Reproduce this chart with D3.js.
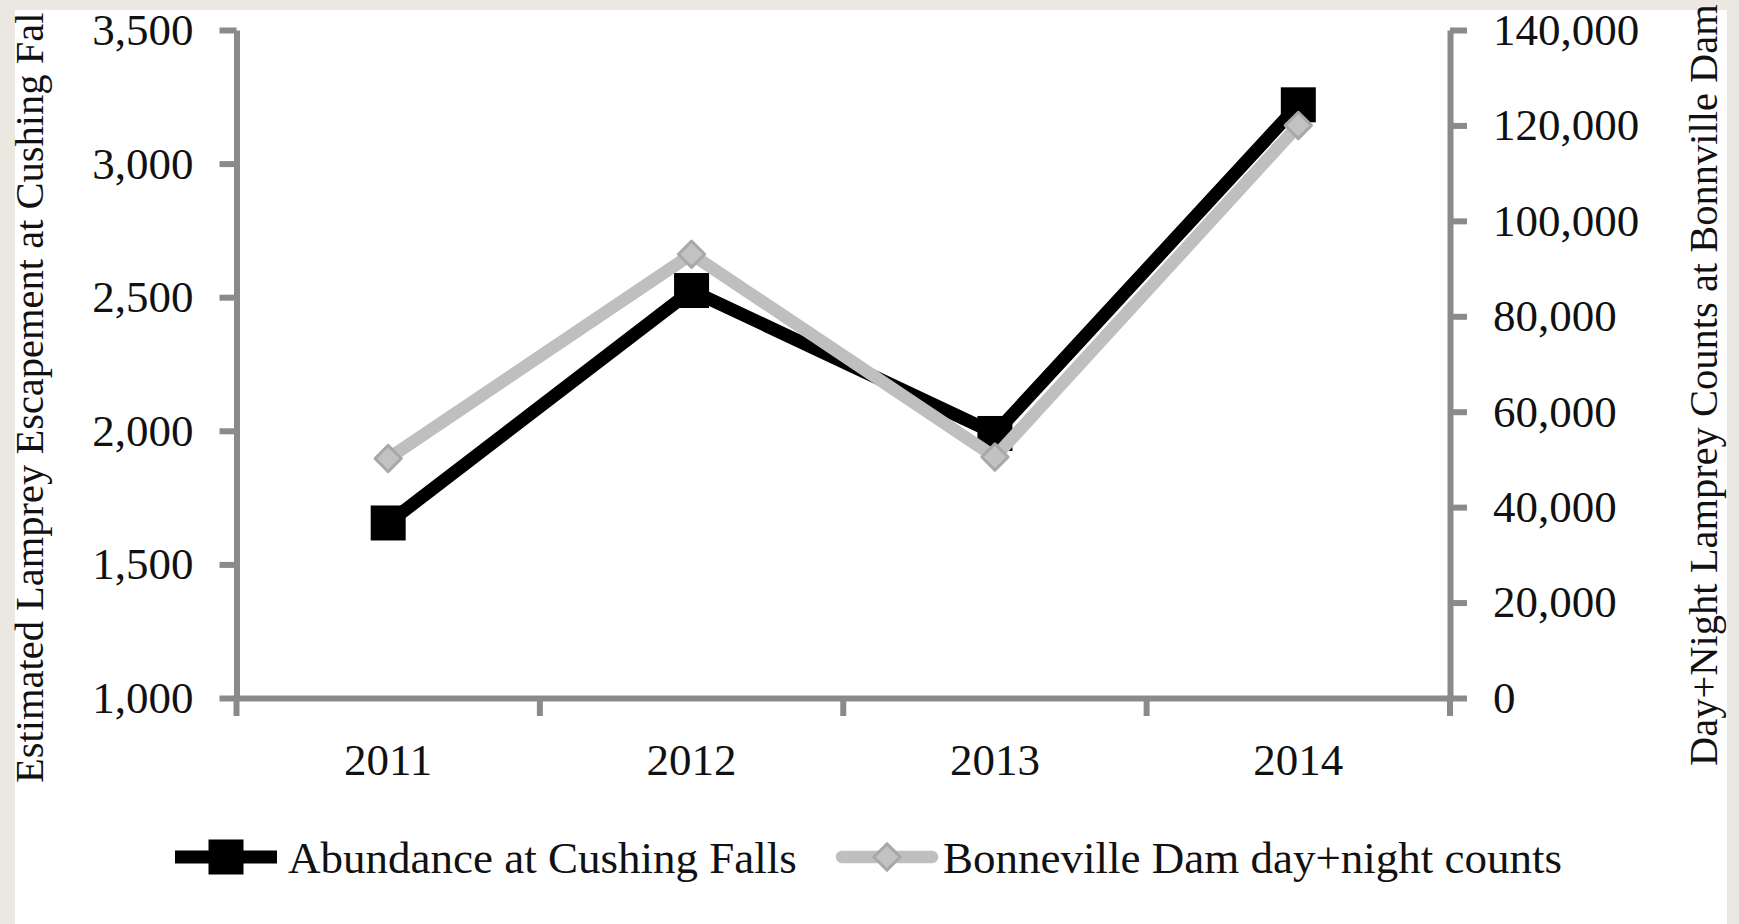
<!DOCTYPE html>
<html>
<head>
<meta charset="utf-8">
<script src="https://cdn.jsdelivr.net/npm/d3@7"></script>
<style>
  body { margin: 0; background: #ebe7e1; }
  svg { display: block; font-family: "Liberation Serif", "Times New Roman", serif; }
</style>
</head>
<body>
<div id="chart"></div>
<script>
// Daten
const years = ["2011", "2012", "2013", "2014"];
const abundance = [1655, 2525, 1990, 3220];        // linke Achse
const bonneville = [50200, 93000, 50500, 120000];  // rechte Achse
const leftTicks = [1000, 1500, 2000, 2500, 3000, 3500];
const rightTicks = [0, 20000, 40000, 60000, 80000, 100000, 120000, 140000];
const seriesNames = ["Abundance at Cushing Falls", "Bonneville Dam day+night counts"];
// Titel wie im Bild sichtbar (oben abgeschnitten)
const leftTitle = "Estimated Lamprey Escapement at Cushing Fal";
const rightTitle = "Day+Night Lamprey Counts at Bonnville Dam";

const width = 1739, height = 924;
const axisColor = "#8a8a8a";
const grayLine = "#bfbfbf";

const svg = d3.select("#chart").append("svg")
  .attr("width", width)
  .attr("height", height);

// weisser Bereich (Rest ist beige Rand)
svg.append("defs").append("clipPath")
  .attr("id", "paper")
  .append("rect")
  .attr("x", 15).attr("y", 10)
  .attr("width", 1712).attr("height", height - 10);

svg.append("rect")
  .attr("width", width).attr("height", height)
  .attr("fill", "#ebe7e1");

const g = svg.append("g").attr("clip-path", "url(#paper)");

g.append("rect")
  .attr("x", 15).attr("y", 10)
  .attr("width", 1712).attr("height", height - 10)
  .attr("fill", "#fff");

const plotLeft = 236.5, plotRight = 1450, plotTop = 30, plotBottom = 698;

const x = d3.scaleBand().domain(years).range([plotLeft, plotRight]);
const yL = d3.scaleLinear().domain([1000, 3500]).range([plotBottom, plotTop]);
const yR = d3.scaleLinear().domain([0, 140000]).range([plotBottom, plotTop]);

const fmt = d3.format(",");

function styleAxis(sel) {
  sel.select(".domain").attr("stroke", axisColor).attr("stroke-width", 6);
  sel.selectAll(".tick line").attr("stroke", axisColor).attr("stroke-width", 6);
  sel.selectAll(".tick text")
    .attr("fill", "#111")
    .style("font-size", "45px")
    .style("font-family", "'Liberation Serif', 'Times New Roman', serif");
}

// linke Achse
g.append("g")
  .attr("transform", `translate(${plotLeft},0)`)
  .call(d3.axisLeft(yL).tickValues(leftTicks).tickFormat(fmt).tickSize(17).tickSizeOuter(0).tickPadding(26))
  .call(styleAxis);

// rechte Achse
g.append("g")
  .attr("transform", `translate(${plotRight},0)`)
  .call(d3.axisRight(yR).tickValues(rightTicks).tickFormat(fmt).tickSize(17).tickSizeOuter(0).tickPadding(26))
  .call(styleAxis);

// x-Achse: Striche an den Kategoriegrenzen
const xAxis = g.append("g")
  .attr("transform", `translate(0,${plotBottom})`)
  .call(d3.axisBottom(x).tickSize(0).tickSizeOuter(0).tickPadding(45))
  .call(styleAxis);

xAxis.selectAll(".boundary")
  .data(d3.range(years.length + 1))
  .enter()
  .append("line")
  .attr("x1", i => plotLeft + i * x.step())
  .attr("x2", i => plotLeft + i * x.step())
  .attr("y1", 0)
  .attr("y2", 18)
  .attr("stroke", axisColor)
  .attr("stroke-width", 6);

const cx = d => x(d) + x.bandwidth() / 2;

// Serie 1: Abundance (schwarz, Quadrate)
g.append("path")
  .datum(years.map((d, i) => [cx(d), yL(abundance[i])]))
  .attr("d", d3.line())
  .attr("fill", "none")
  .attr("stroke", "#000")
  .attr("stroke-width", 13)
  .attr("stroke-linejoin", "round");

g.selectAll(".sq")
  .data(years)
  .enter()
  .append("rect")
  .attr("class", "sq")
  .attr("x", d => cx(d) - 17.5)
  .attr("y", (d, i) => yL(abundance[i]) - 17.5)
  .attr("width", 35)
  .attr("height", 35)
  .attr("fill", "#000");

// Serie 2: Bonneville (grau, Rauten)
g.append("path")
  .datum(years.map((d, i) => [cx(d), yR(bonneville[i])]))
  .attr("d", d3.line())
  .attr("fill", "none")
  .attr("stroke", grayLine)
  .attr("stroke-width", 12.5)
  .attr("stroke-linejoin", "round");

const diamond = d3.symbol().type(d3.symbolDiamond2).size(440);

g.selectAll(".dm")
  .data(years)
  .enter()
  .append("path")
  .attr("class", "dm")
  .attr("d", diamond)
  .attr("transform", (d, i) => `translate(${cx(d)},${yR(bonneville[i])})`)
  .attr("fill", "#c2c2c2")
  .attr("stroke", "#a8a8a8")
  .attr("stroke-width", 3)
  .attr("stroke-linejoin", "round");

// Achsentitel (ohne Clip, damit nichts abgeschnitten wird)
svg.append("text")
  .attr("transform", "translate(43,783) rotate(-90)")
  .style("font-size", "40.5px")
  .attr("fill", "#111")
  .text(leftTitle);

svg.append("text")
  .attr("transform", "translate(1717,766) rotate(-90)")
  .style("font-size", "40.5px")
  .attr("fill", "#111")
  .text(rightTitle);

// Legende
const legendY = 857;
const legend = g.append("g");

// Eintrag 1
legend.append("line")
  .attr("x1", 175).attr("x2", 277)
  .attr("y1", legendY).attr("y2", legendY)
  .attr("stroke", "#000").attr("stroke-width", 13);
legend.append("rect")
  .attr("x", 226 - 17.5).attr("y", legendY - 17.5)
  .attr("width", 35).attr("height", 35)
  .attr("fill", "#000");
legend.append("text")
  .attr("x", 288).attr("y", legendY)
  .attr("dy", "0.35em")
  .style("font-size", "45px")
  .attr("fill", "#111")
  .text(seriesNames[0]);

// Eintrag 2
legend.append("line")
  .attr("x1", 842).attr("x2", 932)
  .attr("y1", legendY).attr("y2", legendY)
  .attr("stroke", grayLine).attr("stroke-width", 12.5)
  .attr("stroke-linecap", "round");
legend.append("path")
  .attr("d", diamond)
  .attr("transform", `translate(887,${legendY})`)
  .attr("fill", "#c2c2c2")
  .attr("stroke", "#a8a8a8")
  .attr("stroke-width", 3);
legend.append("text")
  .attr("x", 943).attr("y", legendY)
  .attr("dy", "0.35em")
  .style("font-size", "45px")
  .attr("fill", "#111")
  .text(seriesNames[1]);
</script>
</body>
</html>
